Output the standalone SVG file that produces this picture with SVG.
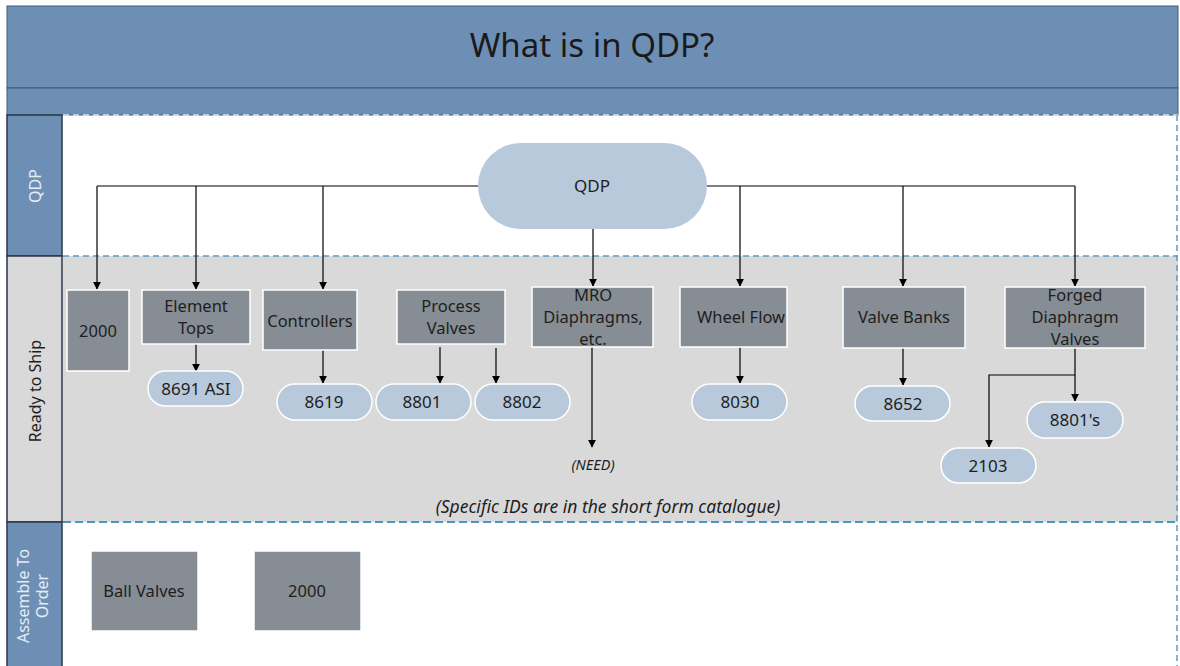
<svg xmlns="http://www.w3.org/2000/svg" width="1180" height="666" viewBox="0 0 1180 666">
<defs>
<marker id="ah" viewBox="0 0 10 10" refX="9" refY="5" markerWidth="8" markerHeight="8" markerUnits="userSpaceOnUse" orient="auto">
<path d="M0,0 L10,5 L0,10 z" fill="#000"/>
</marker>
<style>
text{font-family:"Noto Sans","Open Sans","Liberation Sans",sans-serif;}
.box{fill:#868d94;stroke:#ffffff;stroke-width:1.5;}
.pill{fill:#b8c9dc;stroke:#ffffff;stroke-width:1.5;}
.t{font-size:16.5px;fill:#1e1e1e;text-anchor:middle;}
.p{font-size:17px;fill:#1e1e1e;text-anchor:middle;}
.c{fill:none;stroke:#000;stroke-width:1.2;}
.ca{fill:none;stroke:#000;stroke-width:1.2;marker-end:url(#ah);}
.lane{font-size:16px;text-anchor:middle;}
</style>
</defs>
<rect width="1180" height="666" fill="#ffffff"/>
<g id="pool">
<rect x="7" y="6" width="1171" height="82" fill="#6e8fb5" stroke="#3f5d7a" stroke-width="1"/>
<rect x="7" y="88" width="1171" height="27" fill="#6e8fb5" stroke="#3f5d7a" stroke-width="1"/>
<text x="592" y="57" font-size="33" fill="#1a1a1a" text-anchor="middle">What is in QDP?</text>
<rect x="63" y="256" width="1115" height="266" fill="#d9d9d9"/>
<line x1="63" y1="115" x2="1178" y2="115" stroke="#dfe8f0" stroke-width="1.5" stroke-dasharray="6,4"/>
<line x1="63" y1="256" x2="1178" y2="256" stroke="#5b9bc0" stroke-width="1.5" stroke-dasharray="6,4"/>
<line x1="63" y1="522" x2="1178" y2="522" stroke="#4e95bf" stroke-width="2" stroke-dasharray="8,4"/>
<line x1="1177" y1="115" x2="1177" y2="666" stroke="#5b9bc0" stroke-width="1.5" stroke-dasharray="6,4"/>
</g>
<g id="lane-qdp">
<rect x="7" y="115" width="55" height="141" fill="#6e8fb5" stroke="#2b3744" stroke-width="1.5"/>
<text class="lane" transform="translate(41,186) rotate(-90)" fill="#e4ecf4">QDP</text>
</g>
<g id="lane-ready">
<rect x="7" y="256" width="55" height="266" fill="#d9d9d9" stroke="#2b3744" stroke-width="1.5"/>
<text class="lane" transform="translate(41,391) rotate(-90)" fill="#1e1e1e">Ready to Ship</text>
</g>
<g id="lane-ato">
<rect x="7" y="522" width="55" height="150" fill="#6e8fb5" stroke="#2b3744" stroke-width="1.5"/>
<text class="lane" transform="translate(29,596) rotate(-90)" fill="#e4ecf4">Assemble To</text>
<text class="lane" transform="translate(48,596) rotate(-90)" fill="#e4ecf4">Order</text>
</g>
<g id="connectors">
<path class="c" d="M478,186 H97"/>
<path class="ca" d="M97,186 V289"/>
<path class="ca" d="M196,186 V289"/>
<path class="ca" d="M323,186 V289"/>
<path class="c" d="M707,186 H1075"/>
<path class="ca" d="M740,186 V286"/>
<path class="ca" d="M903,186 V286"/>
<path class="ca" d="M1075,186 V286"/>
<path class="ca" d="M593,229 V286"/>
<path class="ca" d="M196,344 V371"/>
<path class="ca" d="M323,350 V383"/>
<path class="ca" d="M440,347 V383"/>
<path class="ca" d="M496,348 V383"/>
<path class="ca" d="M592,347 V447"/>
<path class="ca" d="M740,347 V383"/>
<path class="ca" d="M903,348 V385"/>
<path class="ca" d="M1075,348 V401"/>
<path class="ca" d="M1075,375 H989 V447"/>
</g>
<g id="n-qdp"><rect x="478" y="143" width="229" height="86" rx="43" fill="#b8c9dc"/><text class="p" x="592" y="192">QDP</text></g>
<g id="n-2000a"><rect class="box" x="67" y="290" width="62" height="81"/><text class="t" x="98" y="337">2000</text></g>
<g id="n-element"><rect class="box" x="142" y="290" width="108" height="54"/><text class="t" x="196" y="312">Element</text><text class="t" x="196" y="334">Tops</text></g>
<g id="n-controllers"><rect class="box" x="263" y="290" width="94" height="60"/><text class="t" x="310" y="327">Controllers</text></g>
<g id="n-process"><rect class="box" x="397" y="290" width="108" height="54"/><text class="t" x="451" y="312">Process</text><text class="t" x="451" y="334">Valves</text></g>
<g id="n-mro"><rect class="box" x="532" y="287" width="121" height="60"/><text class="t" x="593" y="301">MRO</text><text class="t" x="593" y="323">Diaphragms,</text><text class="t" x="593" y="345">etc.</text></g>
<g id="n-wheel"><rect class="box" x="680" y="287" width="107" height="60"/><text class="t" x="741" y="323">Wheel Flow</text></g>
<g id="n-valvebanks"><rect class="box" x="843" y="287" width="122" height="61"/><text class="t" x="904" y="323">Valve Banks</text></g>
<g id="n-forged"><rect class="box" x="1005" y="287" width="140" height="61"/><text class="t" x="1075" y="301">Forged</text><text class="t" x="1075" y="323">Diaphragm</text><text class="t" x="1075" y="345">Valves</text></g>
<g id="n-8691"><rect class="pill" x="148" y="371" width="95" height="35" rx="17.5"/><text class="p" x="196" y="395">8691 ASI</text></g>
<g id="n-8619"><rect class="pill" x="277" y="384" width="95" height="36" rx="18"/><text class="p" x="324" y="408">8619</text></g>
<g id="n-8801"><rect class="pill" x="376" y="384" width="95" height="36" rx="18"/><text class="p" x="422" y="408">8801</text></g>
<g id="n-8802"><rect class="pill" x="475" y="384" width="95" height="36" rx="18"/><text class="p" x="522" y="408">8802</text></g>
<g id="n-8030"><rect class="pill" x="692" y="384" width="95" height="36" rx="18"/><text class="p" x="740" y="408">8030</text></g>
<g id="n-8652"><rect class="pill" x="855" y="386" width="95" height="35" rx="17.5"/><text class="p" x="903" y="410">8652</text></g>
<g id="n-8801s"><rect class="pill" x="1027" y="402" width="96" height="36" rx="18"/><text class="p" x="1075" y="426">8801's</text></g>
<g id="n-2103"><rect class="pill" x="941" y="448" width="95" height="35" rx="17.5"/><text class="p" x="988" y="472">2103</text></g>
<g id="n-need"><text x="593" y="470" font-size="14.5" font-style="italic" fill="#1e1e1e" text-anchor="middle">(NEED)</text></g>
<g id="n-note"><text x="608" y="513" font-size="17.5" font-style="italic" fill="#1e1e1e" text-anchor="middle">(Specific IDs are in the short form catalogue)</text></g>
<g id="n-ball"><rect class="box" x="91" y="551" width="107" height="80" stroke="#d0d0d0"/><text class="t" x="144" y="597">Ball Valves</text></g>
<g id="n-2000b"><rect class="box" x="254" y="551" width="107" height="80" stroke="#d0d0d0"/><text class="t" x="307" y="597">2000</text></g>
</svg>
